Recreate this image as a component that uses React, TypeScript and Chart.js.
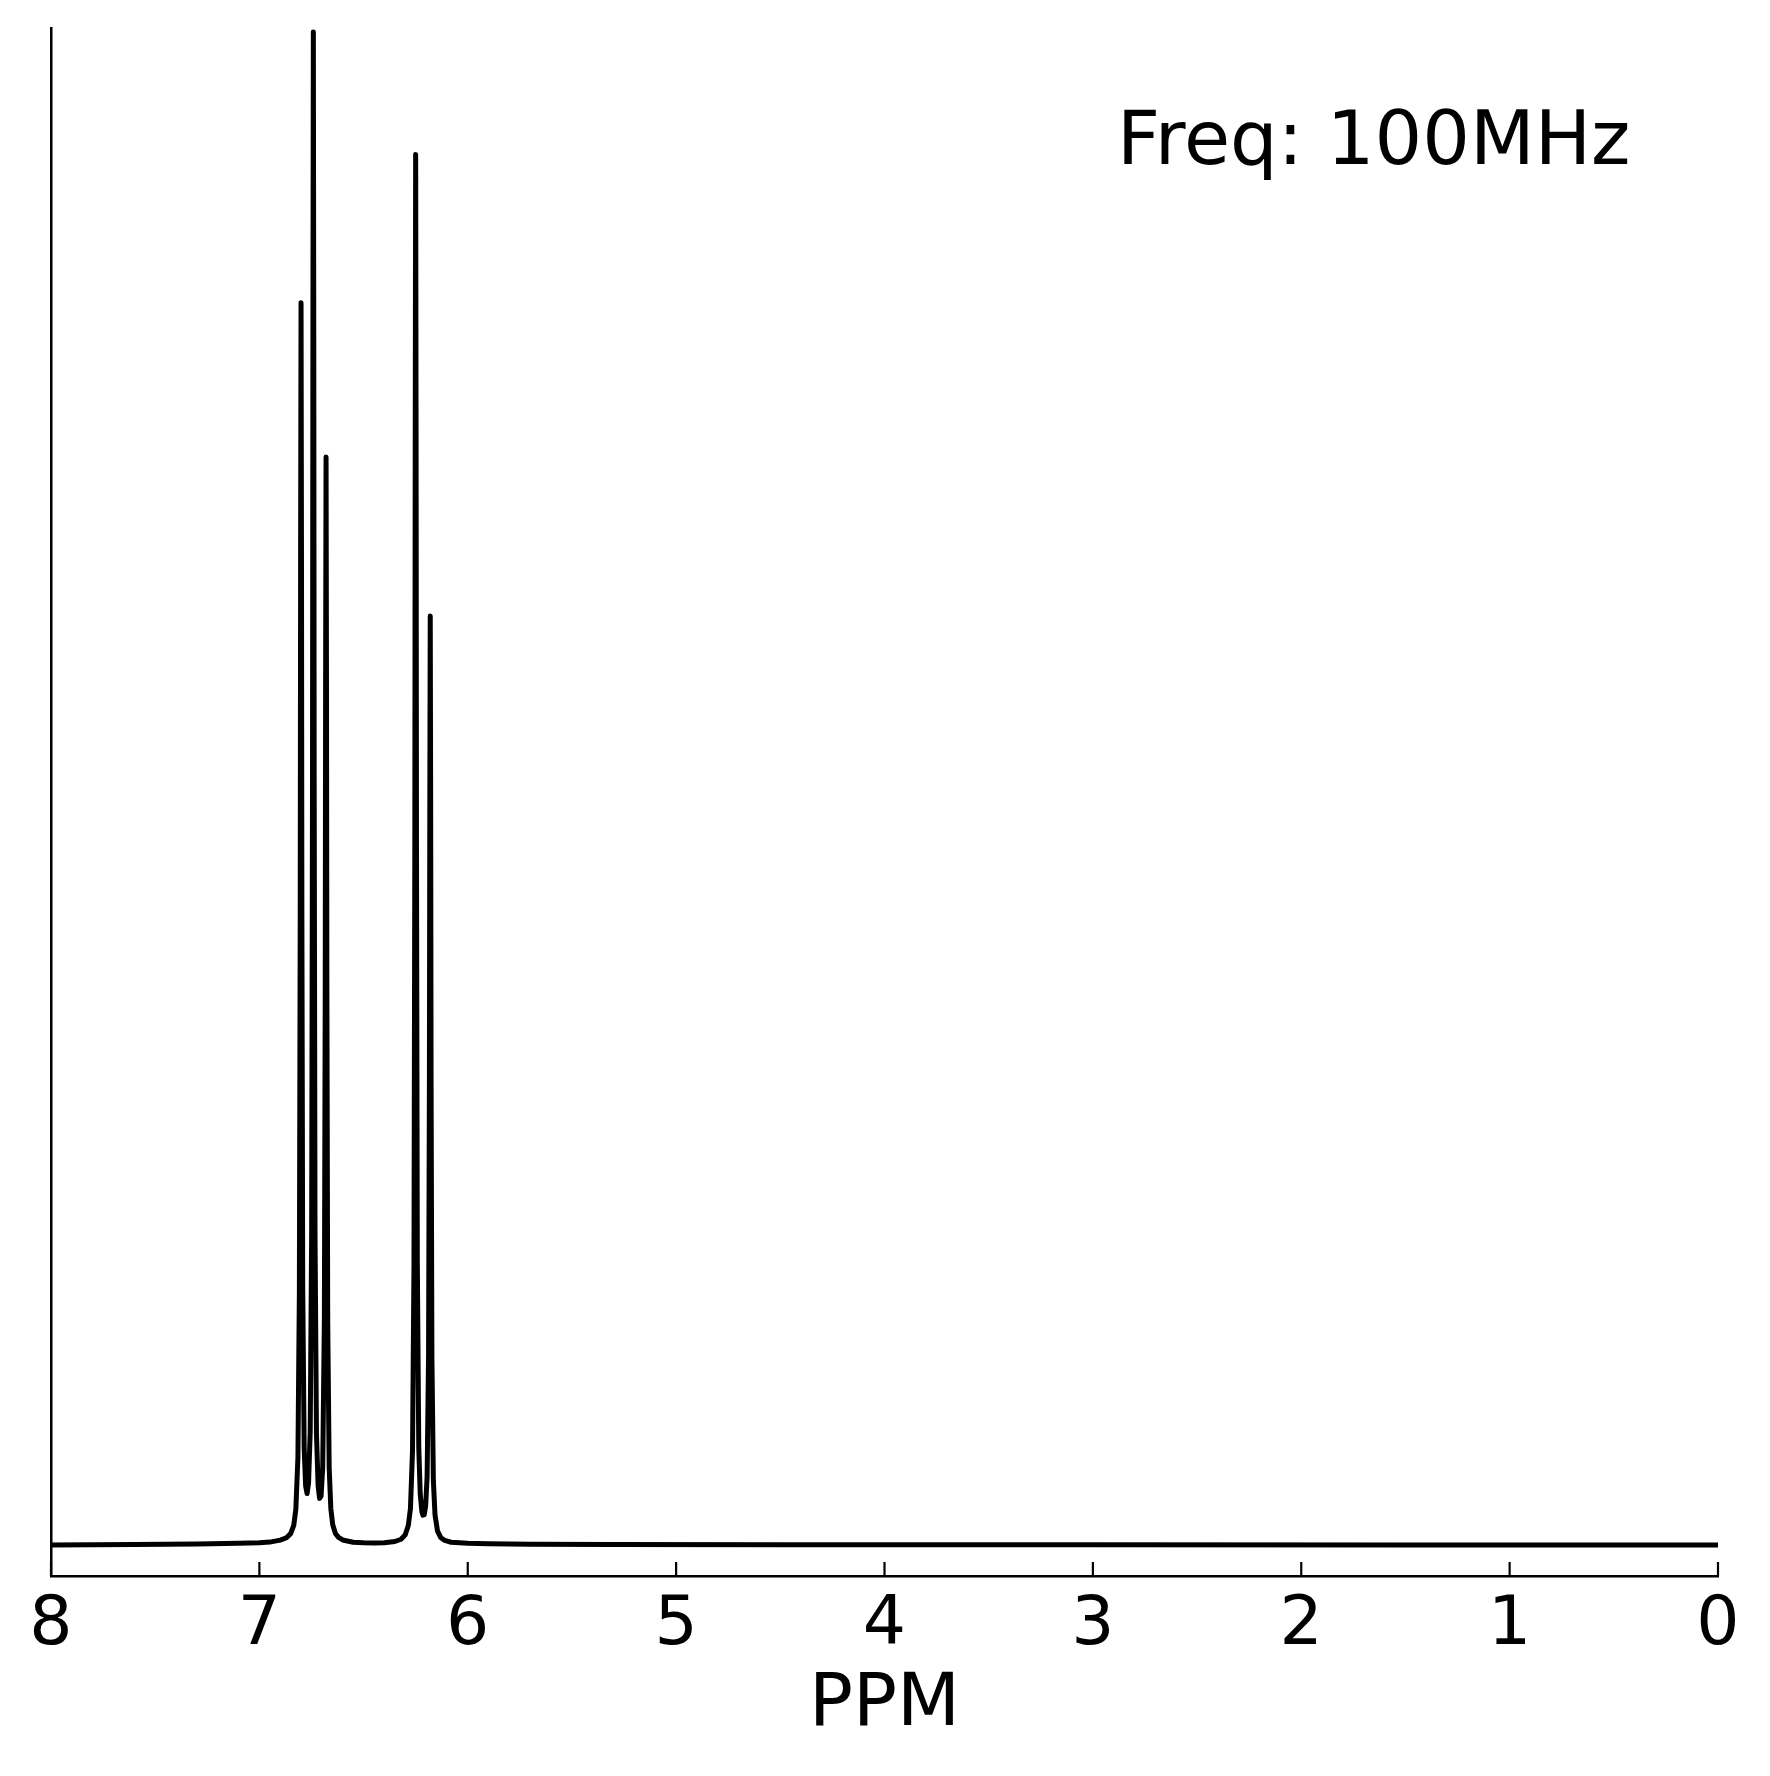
import React, { useEffect, useRef } from "react";
import { Chart, registerables } from "chart.js";

Chart.register(...registerables);

// Chemical shift (ppm) and relative intensity
const ppm = [
  8.0, 7.6, 7.3, 7.1, 7.0, 6.95, 6.9, 6.87, 6.85, 6.835, 6.825, 6.815, 6.808, 6.804, 6.802, 6.8,
  6.798, 6.796, 6.792, 6.785, 6.778, 6.771, 6.764, 6.756, 6.749, 6.745, 6.743, 6.741, 6.739, 6.737,
  6.733, 6.726, 6.718, 6.711, 6.704, 6.696, 6.688, 6.684, 6.682, 6.68, 6.678, 6.676, 6.672, 6.665,
  6.657, 6.648, 6.635, 6.62, 6.6, 6.55, 6.5, 6.45, 6.4, 6.35, 6.32, 6.3, 6.285, 6.275, 6.265, 6.258,
  6.254, 6.252, 6.25, 6.248, 6.246, 6.242, 6.235, 6.228, 6.22, 6.215, 6.209, 6.202, 6.195, 6.188,
  6.184, 6.182, 6.18, 6.178, 6.176, 6.172, 6.165, 6.157, 6.145, 6.13, 6.11, 6.08, 6.0, 5.9, 5.7,
  5.3, 4.5, 3.0, 1.5, 0.0,
];
const intensity = [
  0.0, 0.0004, 0.0007, 0.0011, 0.0014, 0.0019, 0.0032, 0.0048, 0.0075, 0.013, 0.0235, 0.058, 0.168,
  0.414, 0.66, 0.821, 0.661, 0.415, 0.17, 0.064, 0.039, 0.034, 0.041, 0.075, 0.208, 0.505, 0.803,
  1.0, 0.803, 0.505, 0.206, 0.0735, 0.0389, 0.0308, 0.0323, 0.0513, 0.151, 0.362, 0.576, 0.719,
  0.576, 0.362, 0.147, 0.051, 0.024, 0.0134, 0.0076, 0.005, 0.0033, 0.0018, 0.0014, 0.0013, 0.0015,
  0.0023, 0.0038, 0.0067, 0.013, 0.0241, 0.0625, 0.186, 0.462, 0.738, 0.919, 0.736, 0.461, 0.186,
  0.064, 0.0335, 0.022, 0.0197, 0.02, 0.0258, 0.0453, 0.126, 0.308, 0.491, 0.614, 0.491, 0.308,
  0.124, 0.0425, 0.0197, 0.0092, 0.005, 0.003, 0.0018, 0.0011, 0.0008, 0.0005, 0.0003, 0.0002,
  0.0001, 0.00005, 0.0,
];

const xMin = 0;
const xMax = 8;
const xStep = 1;
const xLabel = "PPM";
const annotation = "Freq: 100MHz";

const FONT = '"DejaVu Sans", "Liberation Sans", sans-serif';

export default function App() {
  const ref = useRef<HTMLCanvasElement | null>(null);

  useEffect(() => {
    const canvas = ref.current;
    if (!canvas) return;

    const extras = {
      id: "extras",
      afterDraw(chart: any) {
        const { ctx, chartArea } = chart;
        const xs = chart.scales.x;
        ctx.save();
        ctx.strokeStyle = "#000";
        ctx.lineWidth = 2.2;
        for (const t of xs.ticks) {
          const px = xs.getPixelForValue(t.value);
          ctx.beginPath();
          ctx.moveTo(px, chartArea.bottom);
          ctx.lineTo(px, chartArea.bottom - 14);
          ctx.stroke();
        }
        ctx.fillStyle = "#000";
        ctx.font = `75px ${FONT}`;
        ctx.textAlign = "left";
        ctx.textBaseline = "alphabetic";
        const w = chartArea.right - chartArea.left;
        const h = chartArea.bottom - chartArea.top;
        ctx.fillText(annotation, chartArea.left + 0.6395 * w, chartArea.top + 0.0879 * h);
        ctx.restore();
      },
    };

    const chart = new Chart(canvas, {
      type: "line",
      data: {
        datasets: [
          {
            data: ppm.map((p, i) => ({ x: p, y: intensity[i] })),
            borderColor: "#000",
            borderWidth: 5,
            pointRadius: 0,
            // a non-empty solid dash pattern keeps Chart.js from collapsing
            // points that share a pixel column (its "fast path")
            borderDash: [1000000, 0],
            tension: 0,
            fill: false,
            borderJoinStyle: "round",
            borderCapStyle: "butt",
          },
        ],
      },
      options: {
        animation: false,
        responsive: false,
        devicePixelRatio: 1,
        layout: { padding: { left: 51, right: 52, top: 28, bottom: 0 } },
        plugins: { legend: { display: false }, tooltip: { enabled: false }, title: { display: false } },
        scales: {
          x: {
            type: "linear",
            position: "bottom",
            min: xMin,
            max: xMax,
            reverse: true,
            afterFit: (s: any) => {
              s.height = 200;
            },
            ticks: {
              stepSize: xStep,
              color: "#000",
              padding: 10,
              font: { family: FONT, size: 68 },
              maxRotation: 0,
              autoSkip: false,
            },
            grid: { display: false, drawTicks: false, drawOnChartArea: false },
            border: { display: true, color: "#000", width: 2.5 },
            title: {
              display: true,
              text: xLabel,
              color: "#000",
              font: { family: FONT, size: 73 },
              padding: { top: 0, bottom: 26 },
            },
          },
          y: {
            type: "linear",
            position: "left",
            min: -0.0205,
            max: 1.0026,
            afterFit: (s: any) => {
              s.width = 0;
            },
            ticks: { display: false },
            grid: { display: false, drawTicks: false },
            border: { display: true, color: "#000", width: 2.5 },
          },
        },
      },
      plugins: [extras],
    });

    return () => chart.destroy();
  }, []);

  return (
    <div style={{ position: "absolute", left: 0, top: 0, width: 1770, height: 1776, background: "#fff" }}>
      <canvas ref={ref} width={1770} height={1776} style={{ width: 1770, height: 1776, display: "block" }} />
    </div>
  );
}
